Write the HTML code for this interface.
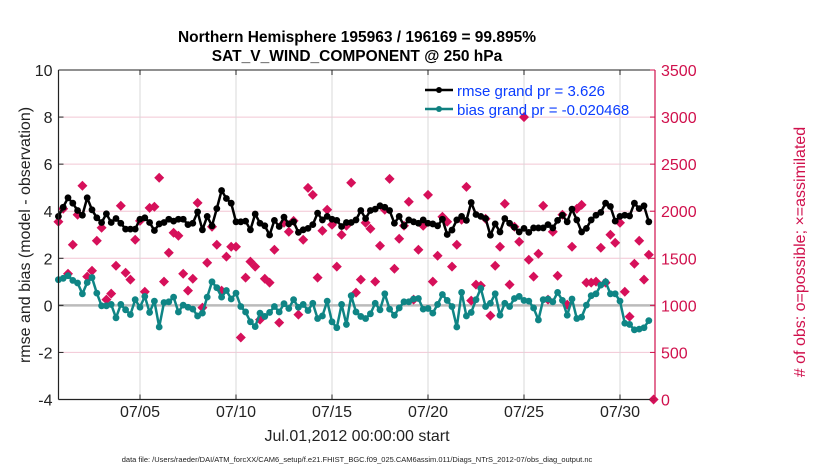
<!DOCTYPE html>
<html><head><meta charset="utf-8"><style>
body{margin:0;background:#fff;}
svg text{font-family:"Liberation Sans",Arial,sans-serif;}
</style></head><body>
<svg id="chart" width="830" height="470" xmlns="http://www.w3.org/2000/svg">
<text x="357" y="42" text-anchor="middle" font-size="15.5" font-weight="bold">Northern Hemisphere 195963 / 196169 = 99.895%</text>
<text x="357" y="61" text-anchor="middle" font-size="15.5" font-weight="bold">SAT_V_WIND_COMPONENT @ 250 hPa</text>
<g id="grid"></g><g id="marks"></g><g id="axes"></g>
<text x="357" y="441" text-anchor="middle" font-size="16" fill="#222">Jul.01,2012 00:00:00 start</text>
<text x="357" y="462" text-anchor="middle" font-size="7.5" fill="#222">data file: /Users/raeder/DAI/ATM_forcXX/CAM6_setup/f.e21.FHIST_BGC.f09_025.CAM6assim.011/Diags_NTrS_2012-07/obs_diag_output.nc</text>
<text transform="translate(30,235) rotate(-90)" text-anchor="middle" font-size="16" fill="#222">rmse and bias (model - observation)</text>
<text transform="translate(805,252) rotate(-90)" text-anchor="middle" font-size="16" fill="#d0104c"># of obs: o=possible; ×=assimilated</text>
<g>
<line x1="425" y1="90" x2="453" y2="90" stroke="#000" stroke-width="2.5"/><circle cx="439" cy="90" r="3" fill="#000"/>
<text x="457" y="96" font-size="15" fill="#0a3cff">rmse grand pr = 3.626</text>
<line x1="425" y1="109" x2="453" y2="109" stroke="#0f8080" stroke-width="2.5"/><circle cx="439" cy="109" r="3" fill="#0f8080"/>
<text x="457" y="115" font-size="15" fill="#0a3cff">bias grand pr = -0.020468</text>
</g>
</svg>
<script>
const rmse=[3.78,4.17,4.57,4.34,4.03,3.83,4.57,4.06,3.72,3.52,3.89,3.52,3.69,3.49,3.24,3.24,3.24,3.66,3.72,3.52,3.18,3.46,3.52,3.66,3.58,3.66,3.66,3.43,3.49,3.97,3.21,3.78,3.38,4.11,4.88,4.54,4.34,3.55,3.55,3.58,3.21,3.88,3.49,3.38,2.99,3.61,3.35,3.75,3.46,3.55,3.10,3.21,3.27,3.43,3.92,3.63,3.78,3.66,3.61,3.35,3.52,3.52,3.63,4.03,3.69,4.03,4.09,4.23,4.17,4.03,3.49,3.78,3.38,3.63,3.55,3.49,3.63,3.49,3.46,3.38,3.66,3.01,3.2,3.63,3.78,3.61,4.37,3.86,3.78,3.69,2.98,3.46,3.12,3.69,3.49,3.32,3.12,3.27,3.10,3.29,3.29,3.29,3.43,3.29,3.61,3.83,3.55,4.09,3.63,3.12,3.27,3.63,3.83,3.95,4.34,4.20,3.58,3.78,3.83,3.80,4.34,4.11,4.23,3.55];
const bias=[1.09,1.15,1.26,1.06,0.95,0.49,0.97,1.18,0.52,-0.02,-0.02,0.04,-0.53,0.04,-0.19,-0.39,0.24,-0.08,0.38,-0.30,0.18,-0.92,0.12,0.15,0.35,-0.28,0.01,-0.08,-0.16,-0.45,-0.33,0.35,1.00,0.75,0.35,0.63,0.27,0.52,-0.05,-0.28,-0.70,-0.90,-0.33,-0.47,-0.30,-0.05,-0.28,0.07,-0.13,0.24,-0.08,0.04,-0.22,0.09,-0.56,-0.45,0.18,-0.70,-0.95,0.04,-0.81,0.41,-0.28,-0.47,-0.56,-0.36,0.09,-0.19,0.49,-0.16,-0.42,-0.11,0.15,0.15,0.27,0.29,-0.16,-0.13,-0.33,0.04,0.46,0.21,-0.05,-0.92,0.55,-0.45,-0.30,0.24,0.72,-0.05,0.09,0.49,-0.42,0.09,-0.05,0.29,0.38,0.21,0.18,-0.11,-0.62,0.24,0.27,0.15,0.55,0.21,-0.42,0.27,-0.56,-0.50,0.01,0.41,0.49,0.86,1.00,0.49,0.49,0.18,-0.76,-0.81,-1.04,-1.01,-0.95,-0.65];
const counts=[1888,2026,1336,1644,1962,2270,1305,1368,1686,1824,1061,1124,1421,2058,1347,1273,1697,1898,1145,2036,2047,2355,1252,1559,1771,1739,1336,1156,1283,2089,976,1453,1835,1644,1156,1517,1623,1623,658,1294,1464,1411,848,1283,1241,1591,817,1877,1782,1898,902,1697,2248,2174,1294,1792,2015,1856,1411,1750,1845,2302,1135,1273,1877,1814,1252,1633,2015,2344,1389,1708,1845,2100,1061,1591,1845,2174,1252,1527,1941,1888,1411,1644,1909,2259,1050,1220,1209,1920,891,1421,1623,2079,1220,1835,1676,3000,1485,1305,1548,2058,1061,1782,1315,1962,1008,1623,2026,2068,1241,1241,1252,1612,1241,1750,1665,1877,1145,880,1442,1686,1273,1538,0];
const leftTicks=[-4,-2,0,2,4,6,8,10];
const rightTicks=[0,500,1000,1500,2000,2500,3000,3500];
const dateTicks=[5,10,15,20,25,30];
const dateLabels=["07/05","07/10","07/15","07/20","07/25","07/30"];
const firstDay=0.75, stepDay=0.25;

const NS="http://www.w3.org/2000/svg";
const X0=58.5,X1=655,Y0=70,Y1=399.5;
const xDay=d=>140+(d-5)*19.2;
const yL=v=>Y1-(v+4)/14*(Y1-Y0);
const yR=v=>Y1-v/3500*(Y1-Y0);
function mk(tag,attrs,parent){const e=document.createElementNS(NS,tag);for(const k in attrs)e.setAttribute(k,attrs[k]);parent.appendChild(e);return e;}
const grid=document.getElementById('grid'),marks=document.getElementById('marks'),axes=document.getElementById('axes');
rightTicks.forEach(v=>{if(v>0&&v<3500){const l=mk('line',{x1:X0,x2:X1,y1:yR(v),y2:yR(v),stroke:'#f2c6d4','stroke-width':1},grid);

}});
dateTicks.forEach(d=>{const l=mk('line',{x1:xDay(d),x2:xDay(d),y1:Y0,y2:Y1,stroke:'#d8d8d8','stroke-width':1},grid);

});
const z=mk('line',{x1:X0,x2:X1,y1:yL(0),y2:yL(0),stroke:'#bbb','stroke-width':2.5},grid);


counts.forEach((c,i)=>{const x=xDay(firstDay+i*stepDay),y=yR(c);
const p=mk('path',{d:`M${x} ${y-5}L${x+5} ${y}L${x} ${y+5}L${x-5} ${y}Z`,fill:'#d6105a'},marks);

});
function series(arr,color,name){
const pts=arr.map((v,i)=>[xDay(firstDay+i*stepDay),yL(v)]);
const pl=mk('polyline',{points:pts.map(p=>p.join(',')).join(' '),fill:'none',stroke:color,'stroke-width':2.5,'stroke-linejoin':'round'},marks);


pts.forEach(p=>{const c=mk('circle',{cx:p[0],cy:p[1],r:3.4,fill:color},marks);

});}
series(rmse,'#000','rmse');
series(bias,'#0f8585','bias');
mk('line',{x1:X0,x2:X0,y1:Y0,y2:Y1,stroke:'#222','stroke-width':1.2},axes);
mk('line',{x1:X0,x2:X1,y1:Y0,y2:Y0,stroke:'#222','stroke-width':1},axes);
mk('line',{x1:X0,x2:X1,y1:Y1,y2:Y1,stroke:'#222','stroke-width':1.2},axes);
mk('line',{x1:X1,x2:X1,y1:Y0,y2:Y1,stroke:'#d0104c','stroke-width':1.2},axes);
leftTicks.forEach(v=>{mk('line',{x1:X0,x2:X0+5,y1:yL(v),y2:yL(v),stroke:'#222'},axes);
const t=mk('text',{x:X0-6,y:yL(v)+6,'text-anchor':'end','font-size':16,fill:'#222'},axes);t.textContent=v;

});
rightTicks.forEach(v=>{mk('line',{x1:X1-5,x2:X1,y1:yR(v),y2:yR(v),stroke:'#d0104c'},axes);
const t=mk('text',{x:X1+6,y:yR(v)+6,'font-size':16,fill:'#d0104c'},axes);t.textContent=v;

});
dateTicks.forEach((d,i)=>{const x=xDay(d);
mk('line',{x1:x,x2:x,y1:Y1,y2:Y1-5,stroke:'#222'},axes);
mk('line',{x1:x,x2:x,y1:Y0,y2:Y0+5,stroke:'#222'},axes);
const t=mk('text',{x:x,y:417,'text-anchor':'middle','font-size':16,fill:'#222'},axes);t.textContent=dateLabels[i];

});
</script>
</body></html>
